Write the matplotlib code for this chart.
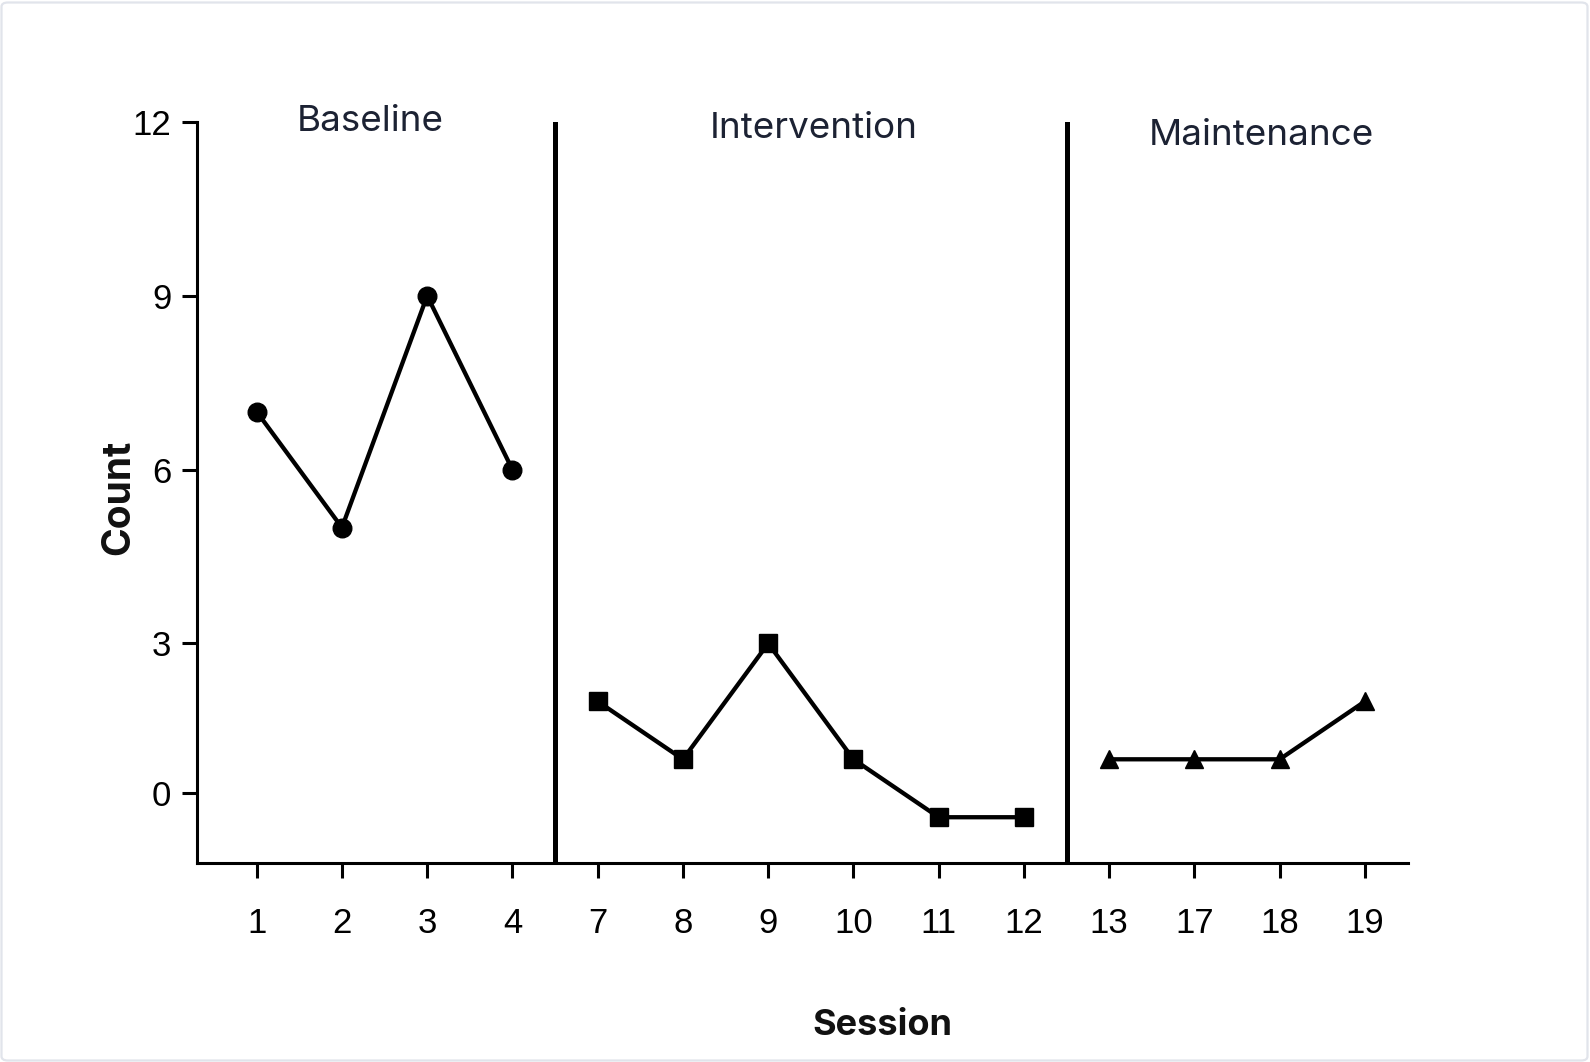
import matplotlib
matplotlib.use("Agg")
import matplotlib.pyplot as plt
from matplotlib.patches import FancyBboxPatch

# ---- data ----
session_labels = ["1", "2", "3", "4", "7", "8", "9", "10", "11", "12", "13", "17", "18", "19"]
baseline_counts = [7, 5, 9, 6]
intervention_counts = [2, 1, 3, 1, 0, 0]
maintenance_counts = [1, 1, 1, 2]
phase_names = ["Baseline", "Intervention", "Maintenance"]
y_tick_labels = ["0", "3", "6", "9", "12"]
y_tick_values = [0.41, 3, 6, 9, 12]

W, H = 1590, 1062
fig = plt.figure(figsize=(W / 100, H / 100), dpi=100)
fig.patch.set_facecolor("white")

# rounded light border around the figure
border = FancyBboxPatch((1.5 / W, 1.5 / H), (W - 4) / W, (H - 4) / H,
                        boxstyle="round,pad=0,rounding_size=0.004",
                        transform=fig.transFigure, facecolor="none",
                        edgecolor="#e1e4eb", linewidth=1.6)
fig.patches.append(border)

left, right, top, bottom = 197, 1408, 122, 863
ax = fig.add_axes([left / W, 1 - bottom / H, (right - left) / W, (bottom - top) / H])

n_base = len(baseline_counts)
n_int = len(intervention_counts)
n_main = len(maintenance_counts)
x_base = list(range(0, n_base))
x_int = list(range(n_base, n_base + n_int))
x_main = list(range(n_base + n_int, n_base + n_int + n_main))

lw = 3.1
ax.plot(x_base, baseline_counts, color="black", lw=lw, marker="o", ms=13.4,
        clip_on=False, zorder=3)
ax.plot(x_int, intervention_counts, color="black", lw=lw, marker="s", ms=13,
        clip_on=False, zorder=3)
ax.plot(x_main, maintenance_counts, color="black", lw=lw, marker="^", ms=13,
        clip_on=False, zorder=3)

# phase change lines
ax.axvline(n_base - 0.5, color="black", lw=3.6, zorder=2)
ax.axvline(n_base + n_int - 0.5, color="black", lw=3.6, zorder=2)

ax.set_xlim(-0.70, len(session_labels) - 1 + 0.505)
ax.set_ylim(-0.79, 12)

ax.set_xticks(range(len(session_labels)))
ax.set_xticklabels(session_labels)
ax.set_yticks(y_tick_values)
ax.set_yticklabels(y_tick_labels)

for s in ["top", "right"]:
    ax.spines[s].set_visible(False)
for s in ["left", "bottom"]:
    ax.spines[s].set_linewidth(2.2)
    ax.spines[s].set_color("black")

ax.tick_params(axis="x", length=11, width=2.2, pad=21, labelsize=25, colors="black")
ax.tick_params(axis="y", length=11, width=2.2, pad=7.5, labelsize=25, colors="black")
for lab in ax.get_xticklabels() + ax.get_yticklabels():
    lab.set_fontfamily("Liberation Sans")

# phase labels
phase_pos = [(1.33, 11.85), (6.53, 11.73), (11.79, 11.60)]
for name, (px, py) in zip(phase_names, phase_pos):
    ax.text(px, py, name, ha="center", va="baseline", fontsize=26.5,
            family="Inter", color="#1c2233", clip_on=False)

fig.text(882 / W, 1 - 1035 / H, "Session", ha="center", va="baseline",
         fontsize=26, fontweight="bold", family="Inter", color="#111111")
fig.text(119 / W, 1 - 497 / H, "Count", ha="center", va="center", rotation=90,
         fontsize=28, fontweight="bold", family="Inter", color="#111111")

fig.savefig("out.png", dpi=100, facecolor="white")
